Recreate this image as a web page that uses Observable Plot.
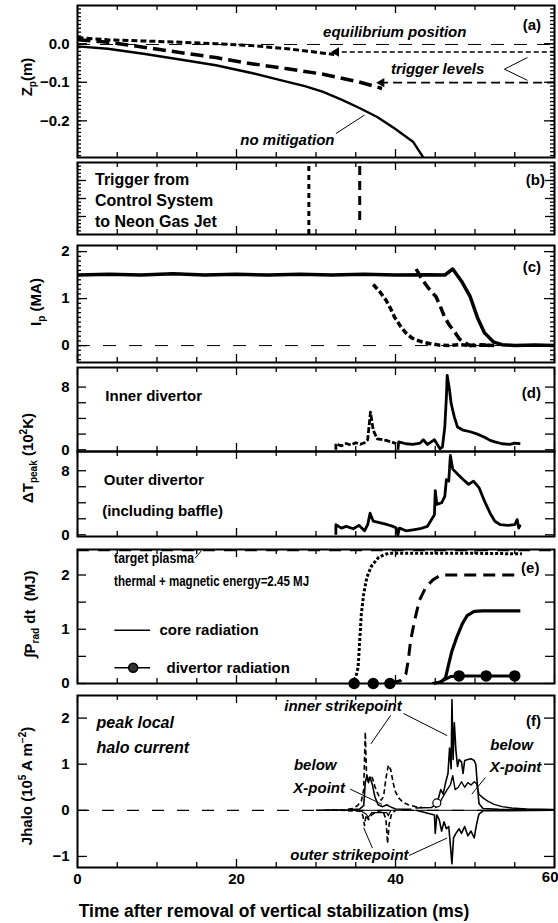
<!DOCTYPE html>
<html>
<head>
<meta charset="utf-8">
<script src="https://cdn.jsdelivr.net/npm/d3@7"></script>
<script src="https://cdn.jsdelivr.net/npm/@observablehq/plot@0.6"></script>
<style>
html,body{margin:0;padding:0;background:#fff;}
#root{position:relative;width:558px;height:923px;overflow:hidden;background:#fff;font-family:"Liberation Sans",Arial,Helvetica,sans-serif;font-weight:bold;color:#000;}
#root svg{position:absolute;left:0;overflow:visible;}
.ytitle{position:absolute;transform:translate(-50%,-50%) rotate(-90deg);white-space:nowrap;font-size:15px;line-height:1;}
.ytitle sub,.ytitle sup{font-size:10px;line-height:0;}
.xtitle{position:absolute;white-space:nowrap;font-size:17.5px;transform:translate(-50%,-50%);}
</style>
</head>
<body>
<div id="root"></div>
<script>
// ---------------- DATA ----------------
const xLabels = [0, 20, 40, 60];
const xMinorTicks = [5, 10, 15, 25, 30, 35, 45, 50, 55];

// (a) vertical position Zp (m)
const zpNoMitigation = [[0,-0.007],[3.8,-0.013],[8.3,-0.026],[12.9,-0.041],[17.4,-0.056],[21.9,-0.076],[26.4,-0.099],[28.6,-0.110],[30.9,-0.125],[33.2,-0.145],[35.4,-0.166],[37.7,-0.190],[39.9,-0.220],[42.2,-0.254],[43.5,-0.295]];
const zpShot2 = [[0,0.010],[3.8,0.004],[8.3,-0.009],[12.9,-0.023],[17.4,-0.036],[21.9,-0.052],[26.4,-0.065],[30.9,-0.079],[35.4,-0.099],[38.3,-0.116]];
const zpShot1 = [[0,0.016],[3.8,0.010],[8.3,0.007],[12.9,0.004],[17.4,0.000],[21.9,-0.005],[26.4,-0.013],[30.0,-0.022],[32.3,-0.028]];
const zpEquilibrium = -0.002;
const triggerLevels = [{t: 32.3, v: -0.0216, kind: "short"}, {t: 38.0, v: -0.101, kind: "long"}];
const zpTicksLabeled = [0, -0.1, -0.2];

// (b) trigger times (ms)
const triggerTimes = [29.1, 35.5];

// (c) plasma current Ip (MA)
const ipShot3 = [[0,1.50],[4,1.52],[8,1.50],[12,1.53],[16,1.50],[20,1.52],[24,1.50],[28,1.52],[32,1.50],[36,1.52],[40,1.50],[44,1.51],[46.2,1.50],[47.2,1.63],[48.3,1.37],[49.4,1.04],[50.3,0.60],[51.2,0.27],[52.3,0.08],[53.4,0.02],[55,0.00],[57.5,0.01],[60,0.00]];
const ipShot1 = [[37.2,1.30],[38.0,1.15],[38.8,0.97],[39.4,0.78],[39.9,0.60],[40.6,0.42],[41.3,0.27],[42.0,0.17],[42.6,0.12],[43.5,0.07],[44.4,0.04],[45.5,0.01],[46.7,0.00],[48,0.02],[49.5,0.00],[51,0.01],[52.5,0.00]];
const ipShot2 = [[42.6,1.63],[43.2,1.45],[43.8,1.30],[44.5,1.15],[45.1,1.04],[45.6,0.85],[46.2,0.60],[46.8,0.43],[47.4,0.30],[48.0,0.15],[48.5,0.08],[49.4,0.00],[50.5,0.02],[52,0.00]];
const ipTicksLabeled = [0, 1, 2];

// (d) divertor peak temperature rise (10^2 K)
const innerShot1 = [[32.5,0.0],[32.5,0.77],[33.2,0.5],[33.8,0.8],[34.4,0.6],[35.0,0.9],[35.6,0.7],[36.1,0.9],[36.5,1.28],[36.85,4.8],[37.2,2.5],[37.7,1.4],[38.8,1.2],[39.5,1.0],[40.1,0.77]];
const innerShot3 = [[40.3,0.0],[40.4,1.0],[41.3,0.77],[42.2,0.68],[43.1,0.85],[43.5,1.28],[44.0,0.68],[44.4,0.94],[44.9,1.28],[45.2,0.77],[45.6,0.13],[45.9,0.34],[46.2,2.9],[46.4,6.7],[46.5,9.5],[46.8,7.6],[47.0,5.9],[47.4,4.2],[47.8,2.9],[48.5,2.5],[49.4,2.3],[50.3,2.0],[51.2,1.6],[51.9,1.2],[52.5,1.0],[53.4,0.77],[54.4,0.68],[55.0,0.85],[55.7,0.77]];
const outerTrace = [[32.5,0],[32.5,1.26],[33.2,0.84],[33.8,1.05],[34.7,0.76],[35.4,1.18],[36.1,0.5],[36.5,1.26],[36.8,2.7],[37.2,1.7],[38.1,1.5],[39.0,1.26],[39.7,1.05],[40.1,0.84],[40.3,0],[40.5,0.84],[41.3,0.5],[42.2,0.63],[43.1,0.76],[44.0,1.05],[44.4,1.7],[44.9,2.5],[45.0,5.5],[45.2,3.8],[45.8,4.0],[46.2,4.8],[46.4,6.9],[46.7,6.7],[46.9,9.9],[47.2,8.2],[47.8,7.6],[48.5,6.9],[49.2,6.3],[49.8,6.7],[50.5,5.9],[51.2,4.2],[51.9,2.7],[52.5,1.7],[53.2,1.26],[54.1,1.18],[55.0,1.26],[55.3,1.9],[55.5,0.84],[55.7,1.26]];
const dTicksLabeled = [0, 8];
const dTicks = [0, 2, 4, 6, 8];

// (e) integrated radiated energy (MJ)
const targetEnergy = 2.45;
const radShot1 = [[34.3,0],[35.0,0.11],[35.3,0.30],[35.5,0.79],[35.7,1.28],[36.0,1.65],[36.4,1.96],[37.0,2.17],[37.9,2.33],[39.1,2.40],[45,2.40],[50,2.40],[55.9,2.39]];
const radShot2 = [[39.3,0],[40.6,0.05],[41.3,0.17],[41.6,0.42],[41.9,0.79],[42.4,1.16],[43.0,1.53],[43.8,1.77],[44.7,1.91],[45.7,2.0],[55.4,2.0]];
const radCore = [[44.6,0],[45.7,0.02],[46.3,0.11],[46.7,0.36],[47.1,0.60],[47.7,0.85],[48.4,1.10],[49.0,1.25],[49.9,1.33],[50.9,1.34],[55.7,1.34]];
const radDivertorLine = [[44.8,0],[45.6,0.03],[46.3,0.08],[47.0,0.13],[48.0,0.14],[51.4,0.14],[55.0,0.14]];
const radDivertorDots = [[34.8,0],[37.2,0],[39.3,0],[48.0,0.14],[51.4,0.14],[55.0,0.14]];
const eTicksLabeled = [0, 1, 2];
const eTicks = [0, 0.5, 1, 1.5, 2];

// (f) peak local halo current (10^5 A m^-2)
const haloShot1Dash = [[31,0],[33.5,0.01],[34.6,0.04],[35.2,0.1],[35.7,0.2],[36.0,0.45],[36.2,1.70],[36.35,0.8],[36.5,0.62],[36.8,0.75],[37.1,0.7],[37.4,0.52],[37.8,0.35],[38.2,0.22],[38.5,0.3],[38.8,0.7],[39.1,0.98],[39.4,0.88],[39.7,0.6],[40.0,0.4],[40.4,0.27],[40.9,0.18],[41.6,0.12],[42.5,0.08],[43.4,0.06]];
const haloShot1Solid = [[30,0],[34,0.01],[35.5,0.03],[36.0,0.1],[36.2,0.6],[36.4,0.75],[36.6,0.6],[36.8,0.72],[37.1,0.55],[37.4,0.3],[37.8,0.12],[38.4,0.08],[38.9,0.12],[39.3,0.08],[40,0.03],[42,0.02]];
const haloShot1DashNeg = [[33,0],[35.6,-0.02],[35.9,-0.12],[36.1,-0.33],[36.3,-0.1],[36.6,-0.2],[37.0,-0.1],[37.6,-0.03],[38.4,0],[38.8,-0.2],[39.0,-0.72],[39.2,-0.3],[39.5,-0.08],[40,0]];
const haloShot1SolidNeg = [[35.5,0],[36.3,-0.08],[36.6,-0.15],[37,-0.05],[38.9,-0.05],[39.1,-0.12],[39.4,0]];
const haloInner = [[42.5,0.05],[44.5,0.06],[45.0,0.12],[45.3,0.2],[45.7,0.45],[46.0,0.35],[46.3,0.6],[46.6,0.8],[46.8,1.35],[47.0,0.9],[47.1,2.40],[47.25,1.1],[47.4,1.9],[47.6,1.3],[47.8,0.95],[48.0,1.1],[48.3,1.05],[48.5,0.8],[48.7,1.08],[49.1,1.1],[49.5,1.12],[49.9,1.08],[50.1,1.0],[50.3,0.55],[50.5,0.15],[51,0.04],[53,0.02],[60,0.01]];
const haloXpoint = [[45,0.05],[45.5,0.15],[46.0,0.3],[46.5,0.45],[46.9,0.55],[47.2,0.75],[47.5,0.45],[47.9,0.5],[48.3,0.62],[48.7,0.5],[49.1,0.6],[49.5,0.55],[49.9,0.62],[50.2,0.58],[50.5,0.35],[51,0.27],[51.6,0.2],[52.4,0.13],[53.4,0.08],[54.6,0.05],[56.5,0.03],[60,0.02]];
const haloOuter = [[42.6,0],[44.9,-0.1],[45.0,-0.5],[45.2,-0.1],[45.5,-0.2],[45.8,-0.45],[46.1,-0.25],[46.4,-0.4],[46.7,-0.35],[46.9,-0.75],[47.1,-1.16],[47.3,-0.6],[47.6,-0.5],[48.0,-0.4],[48.3,-0.5],[48.7,-0.35],[49.1,-0.55],[49.5,-0.45],[49.9,-0.6],[50.2,-0.3],[50.5,-0.08],[51,-0.01],[60,0]];
const haloBaseline = [[30,0],[60,0]];
const haloOpenCircle = [[45.2,0.16]];
const fTicksLabeled = [-1, 0, 1, 2];

// ---------------- ANNOTATIONS (text, in data units) ----------------
const annA = [
  {t: 39.9, v: 0.030, text: "equilibrium position", it: true, anchor: "middle"},
  {t: 45.3, v: -0.065, text: "trigger levels", it: true, anchor: "middle"},
  {t: 26.4, v: -0.250, text: "no mitigation", it: true, anchor: "middle"},
  {t: 58.3, v: 0.047, text: "(a)", it: false, anchor: "end"}
];
const leadA = [{t1: 32.5, v1: -0.233, t2: 36.1, v2: -0.185}, {t1: 53.7, v1: -0.066, t2: 56.6, v2: -0.036}, {t1: 53.7, v1: -0.066, t2: 56.6, v2: -0.095}];
const annB = [
  {t: 2.2, v: 0.76, text: "Trigger from", it: false, anchor: "start", size: 16},
  {t: 2.2, v: 0.47, text: "Control System", it: false, anchor: "start", size: 16},
  {t: 2.2, v: 0.18, text: "to Neon Gas Jet", it: false, anchor: "start", size: 16},
  {t: 58.8, v: 0.76, text: "(b)", it: false, anchor: "end"}
];
const annC = [{t: 58.3, v: 1.67, text: "(c)", it: false, anchor: "end"}];
const annD1 = [{t: 3.5, v: 6.9, text: "Inner divertor", it: false, anchor: "start"}, {t: 58.3, v: 7.2, text: "(d)", it: false, anchor: "end"}];
const annD2 = [{t: 3.3, v: 6.8, text: "Outer divertor", it: false, anchor: "start"}, {t: 3.1, v: 2.95, text: "(including baffle)", it: false, anchor: "start"}];
const annE = [
  {t: 4.6, v: 2.31, text: "target plasma", it: false, anchor: "start", fit: 80},
  {t: 4.6, v: 1.89, text: "thermal + magnetic energy=2.45 MJ", it: false, anchor: "start", fit: 195},
  {t: 10.3, v: 0.98, text: "core radiation", it: false, anchor: "start"},
  {t: 11.2, v: 0.29, text: "divertor radiation", it: false, anchor: "start"},
  {t: 55.8, v: 2.12, text: "(e)", it: false, anchor: "start"}
];
const leadE = [{t1: 14.8, v1: 2.31, t2: 15.6, v2: 2.45}];
const legendE = [{t1: 4.7, t2: 9.2, v: 0.98, dot: null}, {t1: 4.7, t2: 9.2, v: 0.29, dot: 7.0}];
const annF = [
  {t: 2.4, v: 1.89, text: "peak local", it: true, anchor: "start", size: 16},
  {t: 2.4, v: 1.36, text: "halo current", it: true, anchor: "start", size: 16},
  {t: 33.4, v: 2.25, text: "inner strikepoint", it: true, anchor: "middle"},
  {t: 29.9, v: 0.97, text: "below", it: true, anchor: "middle"},
  {t: 30.4, v: 0.49, text: "X-point", it: true, anchor: "middle"},
  {t: 54.6, v: 1.41, text: "below", it: true, anchor: "middle"},
  {t: 55.1, v: 0.93, text: "X-point", it: true, anchor: "middle"},
  {t: 34.2, v: -0.98, text: "outer strikepoint", it: true, anchor: "middle"},
  {t: 58.3, v: 1.93, text: "(f)", it: false, anchor: "end"}
];
const leadF = [
  {t1: 39.4, v1: 2.06, t2: 36.9, v2: 1.44},
  {t1: 41.0, v1: 2.10, t2: 46.5, v2: 1.62},
  {t1: 34.3, v1: 0.46, t2: 38.3, v2: 0.13},
  {t1: 51.3, v1: 0.71, t2: 49.6, v2: 0.35},
  {t1: 37.1, v1: -0.82, t2: 36.0, v2: -0.38},
  {t1: 41.7, v1: -0.98, t2: 46.5, v2: -0.60}
];
const yTitles = [
  {html: "Z<sub>p</sub>(m)", cx: 26, cy: 77},
  {html: "I<sub>p</sub> (MA)", cx: 35, cy: 302},
  {html: "&Delta;T<sub>peak</sub> (10<sup>2</sup>K)", cx: 27, cy: 458},
  {html: "&int;P<sub>rad</sub> dt&nbsp; (MJ)", cx: 29, cy: 614},
  {html: "Jhalo (10<sup>5</sup> A m<sup>&minus;2</sup>)", cx: 26, cy: 786}
];
const xTitle = "Time after removal of vertical stabilization (ms)";

// ---------------- DRAWING ----------------
const FONT = '"Liberation Sans", Arial, Helvetica, sans-serif';
const root = document.getElementById("root");
const W = 558, X0 = 77, X1 = 554, IW = X1 - X0;
const P = d => d; // identity accessor
const fmtSigned = d => (d < 0 ? "\u2212" + Math.abs(d) : String(d));
const fmtA = d => (d < 0 ? "\u2212" : "") + Math.abs(d).toFixed(1);
const fitWidths = new Map();

function line(data, o = {}) {
  return Plot.line(data, {x: d => d[0], y: d => d[1], stroke: "black", strokeWidth: 2, clip: true, curve: "linear",
    strokeLinecap: "butt", strokeLinejoin: "round", ...o});
}
function texts(arr) {
  const marks = [];
  for (const d of arr) if (d.fit) fitWidths.set(d.text, d.fit);
  for (const anchor of ["start", "middle", "end"]) {
    for (const it of [false, true]) {
      for (const size of [15, 16]) {
        const sub = arr.filter(d => d.anchor === anchor && d.it === it && (d.size || 15) === size);
        if (!sub.length) continue;
        marks.push(Plot.text(sub, {x: "t", y: "v", text: "text", textAnchor: anchor, fontStyle: it ? "italic" : "normal",
          fontSize: size, fontWeight: "bold", fill: "black", fontFamily: FONT}));
      }
    }
  }
  return marks;
}
function leaders(arr) {
  return Plot.link(arr, {x1: "t1", y1: "v1", x2: "t2", y2: "v2", stroke: "black", strokeWidth: 1});
}
function frameTicks(h, yMajor, yMinor, majLen, minLen) {
  const m = [];
  const addY = (vals, len) => {
    if (!vals || !vals.length) return;
    m.push(Plot.tickY(vals, {y: P, insetRight: IW - len, strokeWidth: 1.3}));
    m.push(Plot.tickY(vals, {y: P, insetLeft: IW - len, strokeWidth: 1.3}));
  };
  const addX = (vals, len) => {
    m.push(Plot.tickX(vals, {x: P, insetTop: h - len, strokeWidth: 1.3}));
    m.push(Plot.tickX(vals, {x: P, insetBottom: h - len, strokeWidth: 1.3}));
  };
  addY(yMajor, majLen); addY(yMinor, minLen);
  addX(xLabels, 8); addX(xMinorTicks, 5);
  return m;
}
function panel(o) {
  const mt = 10, mb = o.xAxis ? 40 : 10;
  const h = o.bottom - o.top;
  const marks = [
    ...o.marks,
    ...frameTicks(h, o.yMajor, o.yMinor, o.majLen ?? 9, o.minLen ?? 4),
    Plot.frame({stroke: "black", strokeWidth: 2})
  ];
  if (o.yLabels) marks.push(Plot.axisY({ticks: o.yLabels, tickSize: 0, tickPadding: 8, tickFormat: o.fmt || fmtSigned, label: null, fontSize: 15, fontWeight: "bold"}));
  if (o.xAxis) {
    const last = xLabels[xLabels.length - 1];
    marks.push(Plot.axisX({ticks: xLabels.slice(0, -1), tickSize: 0, tickPadding: 6, label: null, fontSize: 15, fontWeight: "bold"}));
    // last label kept inside the page, right-aligned at its tick
    marks.push(Plot.text([last], {x: P, frameAnchor: "bottom", dy: 14, dx: 4, textAnchor: "end", text: d => String(d),
      fontSize: 15, fontWeight: "bold", fill: "black", fontFamily: FONT}));
  }
  const svg = Plot.plot({
    width: W, height: h + mt + mb,
    marginLeft: X0, marginRight: W - X1, marginTop: mt, marginBottom: mb,
    x: {domain: [0, 60], axis: null},
    y: {domain: o.yDomain, axis: null},
    style: {fontFamily: FONT, fontSize: "15px", fontWeight: "bold", background: "transparent", color: "black", overflow: "visible"},
    marks
  });
  svg.style.top = (o.top - mt) + "px";
  // condensed annotation texts (as in the reference figure)
  svg.querySelectorAll("text").forEach(el => {
    const w = fitWidths.get(el.textContent);
    if (w) { el.setAttribute("textLength", w); el.setAttribute("lengthAdjust", "spacingAndGlyphs"); }
  });
  root.append(svg);
}

// (a)
panel({top: 5, bottom: 157, yDomain: [-0.295, 0.099], yLabels: zpTicksLabeled, fmt: fmtA,
  yMajor: [0, -0.1, -0.2], yMinor: d3.range(-0.29, 0.095, 0.01), majLen: 10, minLen: 4,
  marks: [
    Plot.ruleY([zpEquilibrium], {stroke: "black", strokeWidth: 1, strokeDasharray: "13,10"}),
    Plot.ruleY(triggerLevels.filter(d => d.kind === "short"), {y: "v", x1: "t", x2: 60, stroke: "black", strokeWidth: 1.4, strokeDasharray: "5,3"}),
    Plot.ruleY(triggerLevels.filter(d => d.kind === "long"), {y: "v", x1: "t", x2: 60, stroke: "black", strokeWidth: 1.6, strokeDasharray: "9,5"}),
    Plot.dot(triggerLevels, {x: "t", y: "v", symbol: "triangle", rotate: -90, r: 3.5, fill: "black", dx: 2}),
    line(zpShot1, {strokeWidth: 3, strokeDasharray: "6,3"}),
    line(zpShot2, {strokeWidth: 3.5, strokeDasharray: "13,6"}),
    line(zpNoMitigation, {strokeWidth: 2.4}),
    ...texts(annA), leaders(leadA)
  ]});

// (b)
panel({top: 162, bottom: 234, yDomain: [0, 1], yLabels: null,
  yMajor: [0.25, 0.5, 0.75], yMinor: d3.range(0.05, 1, 0.05), majLen: 9, minLen: 4,
  marks: [
    Plot.ruleX([triggerTimes[0]], {x: P, stroke: "black", strokeWidth: 3, strokeDasharray: "5,4", insetTop: 4}),
    Plot.ruleX([triggerTimes[1]], {x: P, stroke: "black", strokeWidth: 3, strokeDasharray: "9,6", insetTop: 4, insetBottom: 8}),
    ...texts(annB)
  ]});

// (c)
panel({top: 245, bottom: 362, yDomain: [-0.36, 2.13], yLabels: ipTicksLabeled,
  yMajor: [0, 1, 2], yMinor: d3.range(-0.3, 2.1, 0.1), majLen: 10, minLen: 4,
  marks: [
    Plot.ruleY([0], {stroke: "black", strokeWidth: 1, strokeDasharray: "13,13"}),
    line(ipShot1, {strokeWidth: 3.5, strokeDasharray: "6,3"}),
    line(ipShot2, {strokeWidth: 3.5, strokeDasharray: "10,5"}),
    line(ipShot3, {strokeWidth: 3.5}),
    ...texts(annC)
  ]});

// (d) inner
panel({top: 367, bottom: 451, yDomain: [-0.22, 10.5], yLabels: dTicksLabeled,
  yMajor: dTicks, yMinor: [], majLen: 9,
  marks: [
    line(innerShot1, {strokeWidth: 2.8, strokeDasharray: "6,2"}),
    line(innerShot3, {strokeWidth: 2.8}),
    ...texts(annD1)
  ]});
// (d) outer
panel({top: 451, bottom: 536, yDomain: [-0.21, 10.4], yLabels: dTicksLabeled,
  yMajor: dTicks, yMinor: [], majLen: 9,
  marks: [
    line(outerTrace, {strokeWidth: 2.8}),
    ...texts(annD2)
  ]});

// (e)
panel({top: 549, bottom: 683, yDomain: [0, 2.47], yLabels: eTicksLabeled,
  yMajor: eTicks, yMinor: [], majLen: 9,
  marks: [
    Plot.ruleY([targetEnergy], {stroke: "black", strokeWidth: 1.5, strokeDasharray: "12,9"}),
    line(radShot1, {strokeWidth: 3, strokeDasharray: "3,2"}),
    line(radShot2, {strokeWidth: 3, strokeDasharray: "12,7"}),
    line(radCore, {strokeWidth: 3.2}),
    line(radDivertorLine, {strokeWidth: 3, clip: false}),
    Plot.dot(radDivertorDots, {x: d => d[0], y: d => d[1], r: 5, fill: "black", stroke: "black"}),
    Plot.ruleY(legendE, {y: "v", x1: "t1", x2: "t2", stroke: "black", strokeWidth: 1.5}),
    Plot.dot(legendE.filter(d => d.dot !== null), {x: "dot", y: "v", r: 4.5, fill: "#333", stroke: "black", strokeWidth: 1.5}),
    ...texts(annE), leaders(leadE)
  ]});

// (f)
panel({top: 695, bottom: 867, yDomain: [-1.24, 2.49], yLabels: fTicksLabeled,
  yMajor: fTicksLabeled, yMinor: [], majLen: 10, xAxis: true,
  marks: [
    Plot.ruleY([0], {stroke: "black", strokeWidth: 1.2, strokeDasharray: "12,13"}),
    line(haloBaseline, {strokeWidth: 1}),
    line(haloShot1Dash, {strokeWidth: 1.6, strokeDasharray: "5,3"}),
    line(haloShot1DashNeg, {strokeWidth: 1.6, strokeDasharray: "5,3"}),
    line(haloShot1Solid, {strokeWidth: 1.6}),
    line(haloShot1SolidNeg, {strokeWidth: 1.2}),
    line(haloXpoint, {strokeWidth: 1.4}),
    line(haloInner, {strokeWidth: 1.6}),
    line(haloOuter, {strokeWidth: 1.6}),
    Plot.dot(haloOpenCircle, {x: d => d[0], y: d => d[1], r: 4, stroke: "black", fill: "white", strokeWidth: 1.2}),
    ...texts(annF), leaders(leadF)
  ]});

// axis titles (HTML, real text)
for (const t of yTitles) {
  const div = document.createElement("div");
  div.className = "ytitle";
  div.innerHTML = t.html;
  div.style.left = t.cx + "px";
  div.style.top = t.cy + "px";
  root.append(div);
}
const xt = document.createElement("div");
xt.className = "xtitle";
xt.textContent = xTitle;
xt.style.left = "274px";
xt.style.top = "911px";
root.append(xt);
</script>
</body>
</html>
